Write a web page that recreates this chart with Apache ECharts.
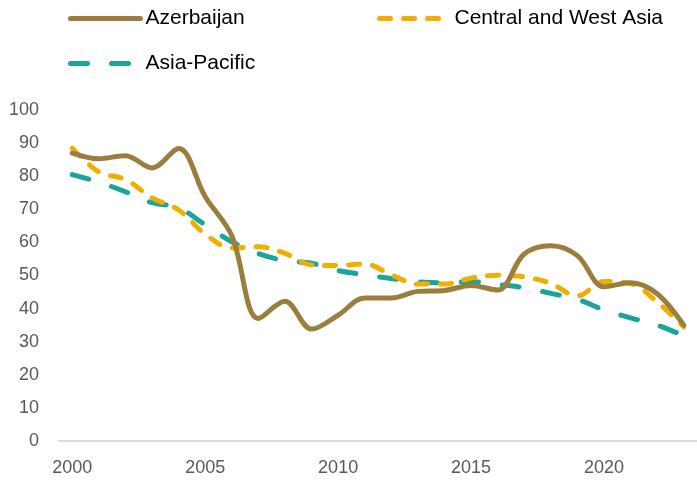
<!DOCTYPE html>
<html>
<head>
<meta charset="utf-8">
<script src="https://cdn.jsdelivr.net/npm/echarts@6/dist/echarts.min.js"></script>
<style>
  html, body { margin: 0; padding: 0; background: #fff; }
  #chart { width: 697px; height: 481px; }
</style>
</head>
<body>
<div id="chart"></div>
<script>
const years = ['2000', '2001', '2002', '2003', '2004', '2005', '2006', '2007', '2008', '2009', '2010', '2011',
  '2012', '2013', '2014', '2015', '2016', '2017', '2018', '2019', '2020', '2021', '2022', '2023'];
const azerbaijan = [87, 85.3, 86.2, 82.5, 88.4, 73.8, 62, 37, 42.2, 33.8, 38, 43.2,
  43.2, 45.2, 45.5, 47, 45.6, 56.5, 59, 56, 46.6, 47.8, 44.5, 35];
const centralWestAsia = [88.5, 81.3, 79, 73.5, 69.8, 62.5, 58.3, 58.7, 56.7, 53.2, 53, 53.5,
  50.2, 47.4, 47.4, 49.2, 50.1, 49.6, 47.6, 43.8, 48.2, 47.6, 42, 34.5];
const asiaPacific = [80.5, 78.2, 75.3, 72, 70.5, 65.3, 60.2, 56.6, 54.5, 53.7, 51.5, 50.2,
  49.1, 48.1, 47.8, 48.1, 47.3, 46.3, 44.6, 42.8, 39.6, 37.2, 35, 31.8];

const FONT = 'Liberation Sans, Arial, sans-serif';
const BROWN = '#9b7e3e', GOLD = '#efae00', TEAL = '#1aa59a';
const GOLD_DASH = [11, 13], TEAL_DASH = [17, 24];

const chart = echarts.init(document.getElementById('chart'), null, {renderer: 'canvas'});

// one legend per entry so each can sit where the reference has it
function legendFor(name, left, top, color, dash) {
  return {
    data: [name],
    left: left,
    top: top,
    orient: 'horizontal',
    itemWidth: 70,
    itemHeight: 14,
    itemStyle: {opacity: 0},
    lineStyle: {color: color, width: 5, type: dash, cap: 'round'},
    textStyle: {color: '#000', fontSize: 21, fontFamily: FONT},
  };
}

chart.setOption({
  animation: false,
  backgroundColor: '#fff',
  legend: [
    legendFor('Azerbaijan', 63, 3, BROWN, 'solid'),
    legendFor('Central and West Asia', 372, 3, GOLD, GOLD_DASH),
    legendFor('Asia-Pacific', 63, 48, TEAL, TEAL_DASH),
  ],
  grid: {left: 59, right: -4, top: 110, bottom: 40, containLabel: false},
  xAxis: {
    type: 'category',
    data: years,
    boundaryGap: true,
    axisLine: {lineStyle: {color: '#d9d9d9', width: 2}},
    axisTick: {show: false},
    axisLabel: {interval: 4, margin: 18, color: '#595959', fontSize: 18, fontFamily: FONT},
    splitLine: {show: false},
  },
  yAxis: {
    type: 'value',
    min: 0,
    max: 100,
    interval: 10,
    axisLine: {show: false},
    axisTick: {show: false},
    axisLabel: {margin: 20, color: '#595959', fontSize: 18, fontFamily: FONT},
    splitLine: {show: false},
  },
  series: [
    {
      name: 'Azerbaijan',
      type: 'line',
      data: azerbaijan,
      smooth: 0.35,
      symbol: 'none',
      z: 3,
      lineStyle: {color: BROWN, width: 5, cap: 'round', join: 'round'},
      itemStyle: {color: BROWN},
    },
    {
      name: 'Central and West Asia',
      type: 'line',
      data: centralWestAsia,
      smooth: 0.35,
      symbol: 'none',
      z: 2,
      lineStyle: {color: GOLD, width: 5, type: GOLD_DASH, cap: 'round', join: 'round'},
      itemStyle: {color: GOLD},
    },
    {
      name: 'Asia-Pacific',
      type: 'line',
      data: asiaPacific,
      smooth: 0.35,
      symbol: 'none',
      z: 1,
      lineStyle: {color: TEAL, width: 5, type: TEAL_DASH, cap: 'round', join: 'round'},
      itemStyle: {color: TEAL},
    },
  ],
});
</script>
</body>
</html>
